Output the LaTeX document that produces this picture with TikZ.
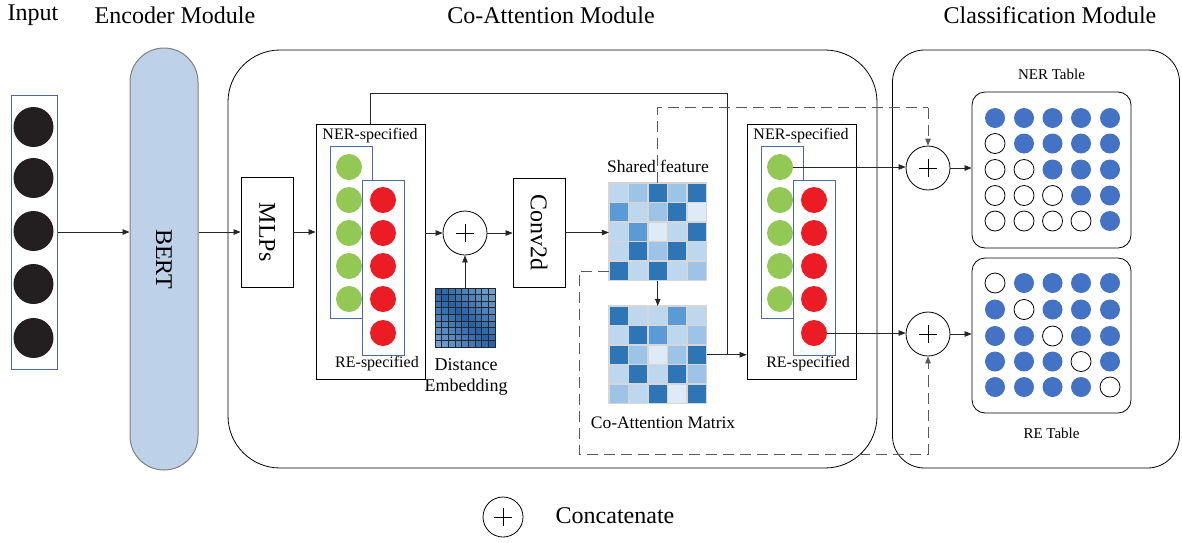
\documentclass[tikz,border=0pt]{standalone}
\usepackage{fontspec}
\setmainfont{Liberation Serif}
\usetikzlibrary{arrows.meta,calc}
\definecolor{bertfill}{HTML}{BDD1E9}
\definecolor{colbord}{HTML}{4A68AC}
\definecolor{greenc}{HTML}{92C853}
\definecolor{redc}{HTML}{EC1C24}
\definecolor{blackc}{HTML}{231F20}
\definecolor{tblue}{HTML}{4472C4}
\definecolor{cellA}{HTML}{2E75B6}
\definecolor{cellB}{HTML}{5B9BD5}
\definecolor{cellC}{HTML}{9DC3E6}
\definecolor{cellD}{HTML}{BDD7EE}
\definecolor{cellE}{HTML}{DEEBF7}
\definecolor{gridline}{HTML}{D6D6D6}
\definecolor{deDark}{HTML}{2762A8}
\definecolor{deLight}{HTML}{9CC2E6}
\tikzset{
  lbl/.style={font=\fontsize{16}{18}\selectfont, inner sep=0},
  mlbl/.style={font=\fontsize{17.5}{21}\selectfont, inner sep=0},
  ttl/.style={font=\fontsize{24}{26}\selectfont, inner sep=0},
  conn/.style={line width=0.7pt, draw=black!85, -{Triangle[length=7pt,width=5.5pt]}},
  plainline/.style={line width=0.7pt, draw=black!85},
  dashc/.style={line width=0.8pt, draw=black!65, dash pattern=on 11pt off 6pt},
  box/.style={draw, line width=0.8pt, inner sep=0},
  colbox/.style={draw=colbord, line width=0.9pt, fill=white, inner sep=0},
  dot/.style={circle, inner sep=0, minimum size=26pt},
  tdot/.style={circle, inner sep=0, minimum size=20pt},
  plus/.style={circle, draw, line width=0.8pt, minimum size=44pt, inner sep=0,
    path picture={\draw[line width=0.8pt] (path picture bounding box.center) +(-9,0) -- +(9,0) +(0,-9) -- +(0,9);}},
}
\newcommand\specblock[2]{%
  \node[box, minimum width=109pt, minimum height=255pt] (#2box) at (370.5+#1,251.5) {};
  \node[lbl] at (370+#1,136) {NER-specified};
  \node[lbl] at (377+#1,364) {RE-specified};
  \node[colbox, minimum width=42pt, minimum height=172pt] (#2gcol) at (351+#1,232) {};
  \node[colbox, minimum width=42pt, minimum height=175pt] (#2rcol) at (383+#1,267.5) {};
  \foreach \yy [count=\n] in {167,200,233,266,299} {\node[dot, fill=greenc] (#2g\n) at (349+#1,\yy) {};}
  \foreach \yy [count=\n] in {200,233,266,299,333} {\node[dot, fill=redc] (#2r\n) at (383+#1,\yy) {};}
}
\newcommand\cgrid[3]{%
  \foreach \row [count=\r from 0] in {#3} {
    \foreach \c [count=\k from 0] in \row {
      \filldraw[fill=cell\c, draw=gridline, line width=1.2pt] ({#1+\k*19.5},{#2+\r*19.5}) rectangle ++(19.5,19.5);
    }
  }
}
\begin{document}
\begin{tikzpicture}[x=1pt,y=-1pt]
\useasboundingbox (0,0) rectangle (1182,542);
% titles
\node[ttl] at (33,15) {Input};
\node[ttl] at (175,15) {Encoder Module};
\node[ttl] at (551,15) {Co-Attention Module};
\node[ttl] at (1050,15) {Classification Module};
% modules
\node[draw, line width=0.8pt, rounded corners=52pt, minimum width=649pt, minimum height=418pt, inner sep=0] (coatt) at (552.5,259) {};
\node[draw, line width=0.8pt, rounded corners=32pt, minimum width=287pt, minimum height=418pt, inner sep=0] (cls) at (1036,259) {};
% input
\node[draw=colbord, line width=1pt, minimum width=46pt, minimum height=274pt, inner sep=0] (inbox) at (34,232) {};
\foreach \yy [count=\n] in {127,178,231,284,338} {\node[dot, minimum size=40pt, fill=blackc] (in\n) at (33.5,\yy) {};}
% BERT
\node[draw=black!50, line width=1pt, fill=bertfill, rounded corners=34pt, minimum width=68pt, minimum height=422pt, inner sep=0] (bert) at (164,259) {};
\node[ttl, rotate=-90] at (164,259) {BERT};
% MLPs
\node[box, minimum width=52pt, minimum height=110pt] (mlp) at (267,232) {};
\node[ttl, rotate=-90] at (267,232) {MLPs};
% blocks
\specblock{0}{L}
\specblock{431}{R}
% plus 1
\node[plus] (p1) at (465,233) {};
% distance embedding
\node[inner sep=0, minimum width=60pt, minimum height=59pt] (de) at (465,317.5) {};
\foreach \i in {0,...,8} {\foreach \j in {0,...,8} {
  \pgfmathtruncatemacro\pp{100-8*abs(\i-\j)}
  \filldraw[fill=deDark!\pp!deLight, draw=black!85, line width=0.5pt] ({435+\j*6.667},{288+\i*6.556}) rectangle ++(6.667,6.556);
}}
\node[lbl, align=center, font=\fontsize{18}{21}\selectfont] at (466,377) {Distance\\Embedding};
% Conv2d
\node[box, minimum width=52pt, minimum height=109pt] (conv) at (539,232.5) {};
\node[ttl, rotate=-90] at (539,232.5) {Conv2d};
% shared feature grid
\node[inner sep=0, minimum size=97.5pt] (sf) at (657.75,231.75) {};
\cgrid{609}{183}{{D,C,A,C,A},{B,D,C,A,E},{D,B,E,D,A},{D,A,C,A,D},{A,D,A,D,C}}
% co-attention grid
\node[inner sep=0, minimum size=97.5pt] (ca) at (657.75,354.75) {};
\cgrid{609}{306}{{A,D,D,B,D},{D,A,B,D,C},{A,C,E,C,A},{D,A,D,A,C},{C,D,A,E,A}}
% plus 2,3
\node[plus] (pn) at (928,168) {};
\node[plus] (pr) at (928,334) {};
% tables
\node[draw, line width=0.8pt, rounded corners=13pt, minimum width=159pt, minimum height=156pt, inner sep=0] (nt) at (1051.5,170) {};
\node[draw, line width=0.8pt, rounded corners=13pt, minimum width=159pt, minimum height=155pt, inner sep=0] (rt) at (1051.5,335.5) {};
\node[lbl, font=\fontsize{15}{17}\selectfont] at (1051.5,74) {NER Table};
\node[lbl, font=\fontsize{15}{17}\selectfont] at (1051.5,433) {RE Table};
\foreach \i [count=\ii] in {118,143.5,169.5,195.5,221} {
  \foreach \xx [count=\jj] in {995,1024,1052.5,1081,1110} {
    \ifnum\jj<\ii
      \node[tdot, draw=black, line width=0.8pt, fill=white] (n\ii\jj) at (\xx,\i) {};
    \else
      \node[tdot, fill=tblue] (n\ii\jj) at (\xx,\i) {};
    \fi
  }
}
\foreach \i [count=\ii] in {283,309.5,336,361.5,387} {
  \foreach \xx [count=\jj] in {995,1024,1052.5,1081,1110} {
    \ifnum\jj=\ii
      \node[tdot, draw=black, line width=0.8pt, fill=white] (r\ii\jj) at (\xx,\i) {};
    \else
      \node[tdot, fill=tblue] (r\ii\jj) at (\xx,\i) {};
    \fi
  }
}
% labels near grids
\node[mlbl] at (658,166) {Shared feature};
\node[mlbl] at (663,423) {Co-Attention Matrix};
% connectors
\draw[conn] (inbox.east) -- (inbox.east -| bert.west);
\draw[conn] (bert.east |- mlp.west) -- (mlp.west);
\draw[conn] (mlp.east) -- (mlp.east -| Lbox.west);
\draw[conn] (Lbox.east |- p1) -- (p1.west);
\draw[conn] (de.north) -- (p1.south);
\draw[conn] (p1.east) -- (p1.east -| conv.west);
\draw[conn] (conv.east) -- (conv.east -| sf.west);
\draw[conn] (sf.south) -- (ca.north);
\draw[conn] (ca.east) -- (ca.east -| Rbox.west);
\coordinate (topright) at (727,93);
\draw[plainline] (Lbox.north) |- (topright) -- (topright |- ca.east);
\draw[dashc] (sf.north) |- ($(pn.north)+(0,-38)$);
\draw[dashc, -{Triangle[length=7pt,width=5.5pt]}] ($(pn.north)+(0,-38)$) -- (pn.north);
\coordinate (dcorner) at (579,454);
\draw[dashc] ($(sf.south west)+(0,-9.75)$) -| (dcorner) -| ($(pr.south)+(0,30)$);
\draw[dashc, -{Triangle[length=7pt,width=5.5pt]}] ($(pr.south)+(0,30)$) -- (pr.south);
\draw[conn] (Rg1.east) -- (Rg1.east -| pn.west);
\draw[conn] (Rr5.east) -- (Rr5.east -| pr.west);
\draw[conn] (pn.east) -- (pn.east -| nt.west);
\draw[conn] (pr.east) -- (pr.east -| rt.west);
% legend
\node[plus, minimum size=40pt] (leg) at (503,517) {};
\node[ttl] at (615,516) {Concatenate};
\end{tikzpicture}
\end{document}
